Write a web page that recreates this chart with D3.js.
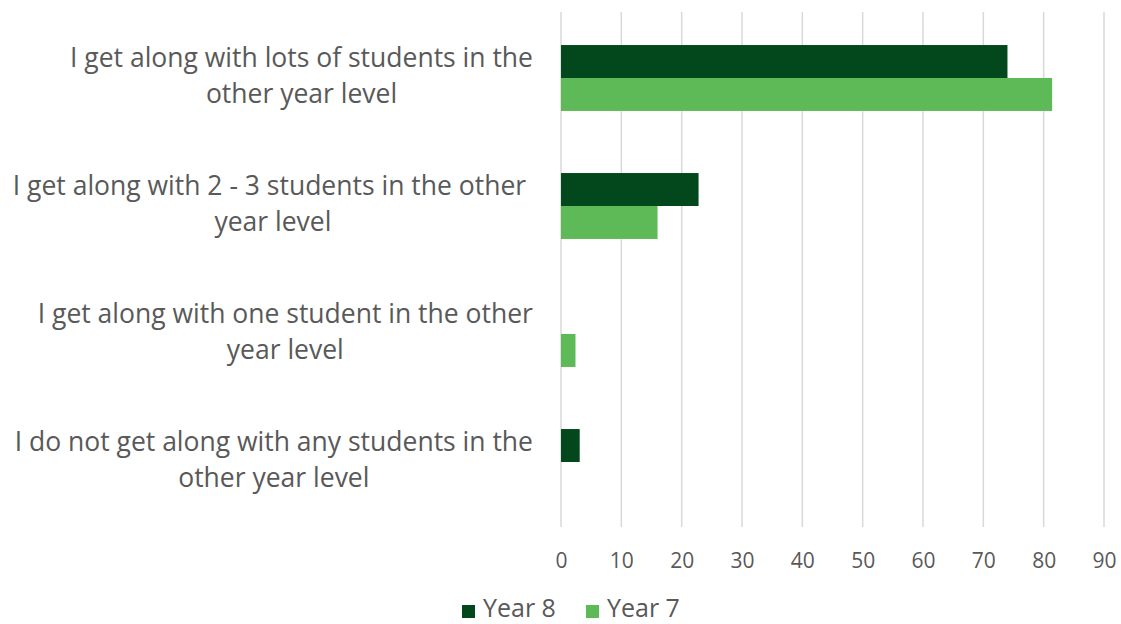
<!DOCTYPE html>
<html><head><meta charset="utf-8">
<script src="https://cdn.jsdelivr.net/npm/d3@7"></script>
<style>
html,body{margin:0;padding:0;background:#fff;}
text{font-family:"Open Sans",sans-serif;}
</style></head>
<body>
<svg id="chart" width="1121" height="624"></svg>
<script>
const categories = [
  ["I get along with lots of students in the", "other year level"],
  ["I get along with 2 - 3 students in the other ", "year level"],
  ["I get along with one student in the other", "year level"],
  ["I do not get along with any students in the", "other year level"]
];
const seriesNames = ["Year 8", "Year 7"];
const year8 = [74.0, 22.8, 0, 3.1];
const year7 = [81.4, 16.0, 2.4, 0];
const xTicks = [0, 10, 20, 30, 40, 50, 60, 70, 80, 90];
const colors = ["#03481D", "#5DBA57"];

(function(){
const svg = d3.select("#chart");
const pLeft = 561, pRight = 1104, pTop = 14, pBottom = 526;
const x = d3.scaleLinear().domain([0, 90]).range([pLeft, pRight]);
const y = d3.scaleBand().domain(d3.range(categories.length)).range([pTop, pBottom]).paddingInner(0.485).paddingOuter(0.2425);
const sub = d3.scaleBand().domain([0, 1]).range([0, y.bandwidth()]);

// gridlines
svg.append("g").selectAll("line").data(xTicks).join("line")
  .attr("x1", d => x(d)).attr("x2", d => x(d))
  .attr("y1", 12).attr("y2", 527)
  .attr("stroke", "#d9d9d9").attr("stroke-width", 1.5);

// axis labels
const axis = d3.axisBottom(x).tickValues(xTicks).tickSize(0).tickPadding(0);
const ag = svg.append("g").attr("transform", `translate(0,${pBottom})`).call(axis);
ag.select(".domain").remove();
ag.selectAll("text").attr("font-size", 21).attr("fill", "#595959")
  .attr("font-family", "'Open Sans',sans-serif").attr("dy", null).attr("y", 42);

// bars
const seriesData = [year8, year7];
seriesData.forEach((vals, si) => {
  svg.append("g").selectAll("rect").data(vals).join("rect")
    .attr("x", x(0))
    .attr("y", (d, i) => y(i) + sub(si))
    .attr("width", d => Math.max(0, x(d) - x(0)))
    .attr("height", sub.bandwidth())
    .attr("fill", colors[si])
    .attr("display", d => d > 0 ? null : "none");
});

// category labels
const labelRight = 533;
categories.forEach((lines, i) => {
  const cy = y(i) + y.bandwidth() / 2;
  const t = svg.append("text").attr("font-size", 26.5).attr("fill", "#595959")
    .attr("text-anchor", "middle").style("white-space", "pre");
  lines.forEach((ln, li) => {
    t.append("tspan").attr("x", 0).attr("y", cy + (li - (lines.length - 1) / 2) * 36 + 7).text(ln);
  });
  const w = t.node().getBBox().width;
  t.selectAll("tspan").attr("x", labelRight - w / 2);
});

// legend
const legend = [{name: seriesNames[0], c: colors[0], x: 462}, {name: seriesNames[1], c: colors[1], x: 586}];
legend.forEach(l => {
  svg.append("rect").attr("x", l.x).attr("y", 605).attr("width", 13).attr("height", 13).attr("fill", l.c);
  svg.append("text").attr("x", l.x + 21).attr("y", 617).attr("font-size", 25).attr("fill", "#595959").text(l.name);
});
})();
</script>
</body></html>
